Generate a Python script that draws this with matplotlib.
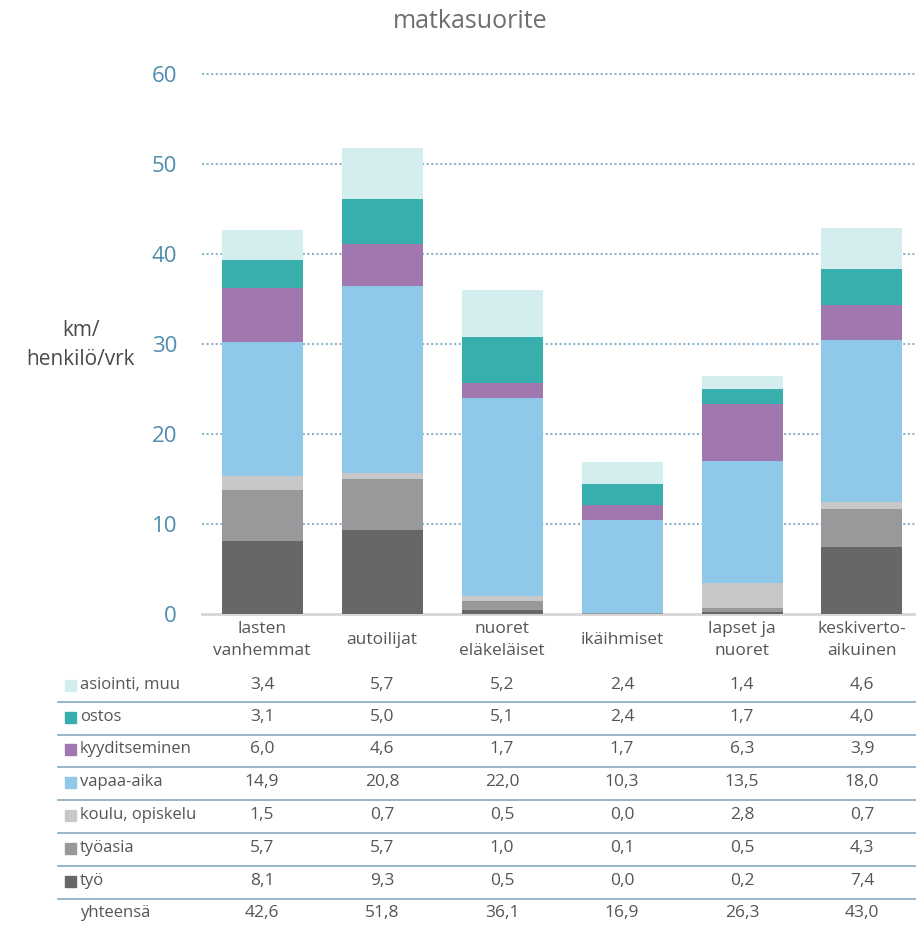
import matplotlib as mpl
import matplotlib.pyplot as plt
from matplotlib.transforms import blended_transform_factory

import numpy as np

mpl.rcParams.update({'font.family': ['Open Sans', 'DejaVu Sans'],
                     'font.size': 12.5})

# Groups and trip purposes (km / person / day)
groups = ['lasten\nvanhemmat', 'autoilijat', 'nuoret\neläkeläiset',
          'ikäihmiset', 'lapset ja\nnuoret', 'keskiverto-\naikuinen']
purposes = ['työ', 'työasia', 'koulu, opiskelu', 'vapaa-aika',
            'kyyditseminen', 'ostos', 'asiointi, muu']

tyo       = [8.1, 9.3, 0.5, 0.0, 0.2, 7.4]
tyoasia   = [5.7, 5.7, 1.0, 0.1, 0.5, 4.3]
koulu     = [1.5, 0.7, 0.5, 0.0, 2.8, 0.7]
vapaa     = [14.9, 20.8, 22.0, 10.3, 13.5, 18.0]
kyyd      = [6.0, 4.6, 1.7, 1.7, 6.3, 3.9]
ostos     = [3.1, 5.0, 5.1, 2.4, 1.7, 4.0]
asiointi  = [3.4, 5.7, 5.2, 2.4, 1.4, 4.6]
yhteensa  = [42.6, 51.8, 36.1, 16.9, 26.3, 43.0]

series = [tyo, tyoasia, koulu, vapaa, kyyd, ostos, asiointi]
colors = ['#676767', '#99999c', '#c8c8ca', '#8fc8e8',
          '#a077ae', '#37b0ad', '#d4eef0']

W, H = 916, 926
fig = plt.figure(figsize=(W / 100, H / 100), dpi=100, facecolor='w')
ax = fig.add_axes([202 / W, (H - 614) / H, 714 / W, 549 / H])

x = np.arange(len(groups))
bottom = np.zeros(len(groups))
for vals, c in zip(series, colors):
    ax.bar(x, vals, width=0.675, bottom=bottom, color=c, zorder=3)
    bottom += np.array(vals)

ax.set_xlim(-0.5, 5.45)
ax.set_ylim(0, 61)
for s in ax.spines.values():
    s.set_visible(False)
for yv in range(10, 70, 10):
    ax.axhline(yv, color='#8fb3c8', lw=1.5, ls=(0, (1, 1.2)), zorder=1)
ax.axhline(0, color='#d6d6d6', lw=2.0, zorder=2, clip_on=False)

ax.set_yticks(range(0, 70, 10))
ax.set_yticklabels([str(v) for v in range(0, 70, 10)], color='#4f8cae',
                   fontsize=16)
ax.tick_params(axis='y', length=0, pad=18)
ax.set_xticks([])

fig.text(470 / W, 1 - 21 / H, 'matkasuorite', ha='center', va='center',
         fontsize=18, color='#6e6e6e')
fig.text(81 / W, 1 - 345 / H, 'km/\nhenkilö/vrk', ha='center', va='center',
         fontsize=15, color='#4a4a4a', linespacing=1.45)

# category labels under the bars
trans = blended_transform_factory(ax.transData, fig.transFigure)
for xi, g in zip(x, groups):
    fig.text(xi, 1 - 640 / H, g, transform=trans, ha='center', va='center',
             fontsize=12.5, color='#555555', linespacing=1.55)

# data table
row_names = purposes[::-1] + ['yhteensä']
row_vals = series[::-1] + [yhteensa]
row_cols = colors[::-1] + [None]
row_y = [685, 717, 749, 782, 815, 848, 881, 913]
sep_y = [702, 735, 767, 800, 833, 866, 899]

for name, vals, c, yp in zip(row_names, row_vals, row_cols, row_y):
    yf = 1 - yp / H
    if c is not None:
        fig.patches.append(mpl.patches.Rectangle(
            (65 / W, 1 - (yp + 5.5) / H), 11 / W, 11 / H, color=c,
            transform=fig.transFigure, figure=fig))
    fig.text(80 / W, yf, name, ha='left', va='center', fontsize=12,
             color='#555555')
    for xi, v in zip(x, vals):
        fig.text(xi, yf, f'{v:.1f}'.replace('.', ','), transform=trans,
                 ha='center', va='center', fontsize=12.5, color='#555555')

for yp in sep_y:
    fig.add_artist(mpl.lines.Line2D([58 / W, 1], [1 - yp / H, 1 - yp / H],
                                    transform=fig.transFigure,
                                    color='#86a8bf', lw=1.2))

fig.savefig('out.png', dpi=100, facecolor='w')
